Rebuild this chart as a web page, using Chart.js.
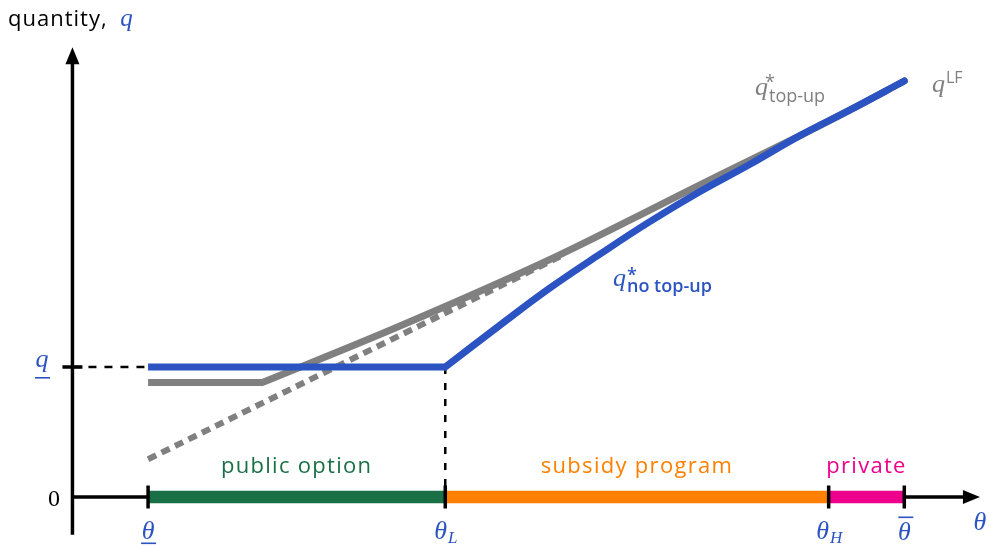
<!DOCTYPE html>
<html><head><meta charset="utf-8">
<script src="https://cdn.jsdelivr.net/npm/chart.js@4/dist/chart.umd.min.js"></script>
<style>html,body{margin:0;padding:0;background:#fff}#wrap{width:989px;height:546px;position:relative}</style>
</head><body><div id="wrap"><canvas id="c"></canvas></div>
<script>
// ---------- data (model units: theta on x, quantity q on y) ----------
const thetaLow = 1.0, thetaL = 4.93, thetaH = 10.0, thetaHigh = 11.0;
const qLow = 1.0;
// q* no top-up: flat at q_ up to theta_L, then concave rise
const noTopUpX = [4.93, 5.65, 6.32, 6.98, 7.64, 8.30, 8.96, 9.62, 10.29, 11.0];
const noTopUpY = [1.0, 1.32, 1.61, 1.87, 2.12, 2.35, 2.56, 2.78, 2.98, 3.2];
// q* top-up: flat part then rise
const topUpFlatX = [1.0, 2.51];
const topUpFlatY = [0.88, 0.88];
const topUpX = [2.51, 4.33, 6.18, 7.51, 8.57, 9.62, 10.29, 11.0];
const topUpY = [0.88, 1.315, 1.79, 2.17, 2.48, 2.78, 2.98, 3.2];
// q LF (dotted)
const lfX = [1.0, 6.45];
const lfY = [0.29, 1.85];
const segNames = ['public option', 'subsidy program', 'private'];
const segStart = [thetaLow, thetaL, thetaH];
const segEnd = [thetaL, thetaH, thetaHigh];
const xAxisEnd = 12.0, yAxisTop = 3.46, yAxisBottom = -0.29;

// ---------- styles ----------
const BLUE = '#2b53c1', GRAY = '#808080';
const SEG_COLORS = ['#1a7046', '#ff8000', '#ec008c'];
const TEXT = '"Open Sans", "DejaVu Sans", sans-serif';
const MATH = '"Liberation Serif", "DejaVu Serif", serif';

const pts = (xs, ys) => xs.map((x, i) => ({x, y: ys[i]}));
const line = (data, color, width, extra) => Object.assign({
  data, borderColor: color, borderWidth: width, showLine: true, pointRadius: 0,
  fill: false, tension: 0, borderCapStyle: 'butt', borderJoinStyle: 'miter'
}, extra || {});

const datasets = [
  line(pts(noTopUpX, noTopUpY), BLUE, 7, {tension: 0.4, borderCapStyle: 'round'}),
  line([{x: thetaLow, y: qLow}, {x: thetaL, y: qLow}], BLUE, 7),
  line(pts(topUpX, topUpY), GRAY, 7, {tension: 0.4, borderCapStyle: 'round'}),
  line(pts(topUpFlatX, topUpFlatY), GRAY, 7),
  line(pts(lfX, lfY), GRAY, 6, {borderDash: [9, 6]}),
];
segNames.forEach((n, i) => datasets.push(line([{x: segStart[i], y: 0}, {x: segEnd[i], y: 0}], SEG_COLORS[i], 12.5)));
datasets.push(line([{x: 0, y: qLow}, {x: thetaLow, y: qLow}], '#000', 2.5, {borderDash: [8, 8]}));
datasets.push(line([{x: thetaL, y: qLow}, {x: thetaL, y: 0}], '#000', 2.5, {borderDash: [7, 9]}));

function put(ctx, s, x, y, font, color, align) {
  ctx.font = font; ctx.fillStyle = color; ctx.textAlign = align || 'left'; ctx.textBaseline = 'alphabetic';
  ctx.fillText(s, x, y);
  return ctx.measureText(s).width;
}

const decor = {
  id: 'decor',
  beforeDatasetsDraw(chart) {
    const {ctx, scales: {x, y}} = chart;
    ctx.save();
    ctx.strokeStyle = '#000'; ctx.lineWidth = 3.5; ctx.lineCap = 'butt';
    ctx.beginPath();
    ctx.moveTo(x.getPixelForValue(0), y.getPixelForValue(yAxisBottom));
    ctx.lineTo(x.getPixelForValue(0), y.getPixelForValue(yAxisTop) + 10);
    ctx.moveTo(x.getPixelForValue(0), y.getPixelForValue(0));
    ctx.lineTo(x.getPixelForValue(xAxisEnd) - 10, y.getPixelForValue(0));
    ctx.stroke();
    ctx.restore();
  },
  afterDatasetsDraw(chart) {
    const {ctx, scales: {x, y}} = chart;
    const x0 = x.getPixelForValue(0), y0 = y.getPixelForValue(0);
    ctx.save();
    // arrowheads
    ctx.fillStyle = '#000';
    const yt = y.getPixelForValue(yAxisTop);
    ctx.beginPath(); ctx.moveTo(x0, yt); ctx.lineTo(x0 - 7, yt + 17); ctx.lineTo(x0 + 7, yt + 17); ctx.closePath(); ctx.fill();
    const xe = x.getPixelForValue(xAxisEnd);
    ctx.beginPath(); ctx.moveTo(xe, y0); ctx.lineTo(xe - 17, y0 - 7); ctx.lineTo(xe - 17, y0 + 7); ctx.closePath(); ctx.fill();
    // ticks
    ctx.strokeStyle = '#000'; ctx.lineWidth = 3.5;
    ctx.beginPath();
    [thetaLow, thetaL, thetaH, thetaHigh].forEach(t => {
      const px = x.getPixelForValue(t); ctx.moveTo(px, y0 - 11.5); ctx.lineTo(px, y0 + 11.5);
    });
    const yq = y.getPixelForValue(qLow);
    ctx.moveTo(x0 - 10, yq); ctx.lineTo(x0 + 10, yq);
    ctx.stroke();

    // y axis title
    ctx.letterSpacing = '1px';
    let w = put(ctx, 'quantity, ', 8, 26, '22px ' + TEXT, '#000');
    ctx.letterSpacing = '0px';
    put(ctx, 'q', 8 + w + 6, 26, 'italic 25px ' + MATH, BLUE);
    // q underline label
    put(ctx, 'q', 42, 367, 'italic 26px ' + MATH, BLUE, 'center');
    ctx.fillStyle = BLUE; ctx.fillRect(35, 377, 15, 1.6);
    // zero
    put(ctx, '0', 54, 506, '24px ' + MATH, '#000', 'center');

    // theta labels
    const tf = 'italic 26px ' + MATH, sf = 'italic 17px ' + MATH;
    let px = x.getPixelForValue(thetaLow);
    put(ctx, 'θ', px, 539, tf, BLUE, 'center');
    ctx.fillStyle = BLUE; ctx.fillRect(px - 7, 542.5, 15, 1.6);
    ctx.font = tf; const tw = ctx.measureText('θ').width;
    ctx.font = sf;
    px = x.getPixelForValue(thetaL);
    let lw = ctx.measureText('L').width;
    put(ctx, 'θ', px - (tw + lw) / 2, 539, tf, BLUE);
    put(ctx, 'L', px - (tw + lw) / 2 + tw + 1, 543, sf, BLUE);
    px = x.getPixelForValue(thetaH);
    ctx.font = sf; lw = ctx.measureText('H').width;
    put(ctx, 'θ', px - (tw + lw) / 2, 539, tf, BLUE);
    put(ctx, 'H', px - (tw + lw) / 2 + tw + 1, 543, sf, BLUE);
    px = x.getPixelForValue(thetaHigh);
    put(ctx, 'θ', px, 540, tf, BLUE, 'center');
    ctx.fillStyle = BLUE; ctx.fillRect(px - 6, 516.5, 15, 1.6);
    put(ctx, 'θ', 980, 530, tf, BLUE, 'center');

    // segment labels
    ctx.letterSpacing = '1.3px';
    segNames.forEach((n, i) => {
      const cx = (x.getPixelForValue(segStart[i]) + x.getPixelForValue(segEnd[i])) / 2;
      put(ctx, n, cx, 473, '22px ' + TEXT, SEG_COLORS[i], 'center');
    });
    ctx.letterSpacing = '0px';

    // curve labels
    put(ctx, 'q', 755, 95, 'italic 26px ' + MATH, GRAY);
    put(ctx, '*', 765, 88, '18px ' + TEXT, GRAY);
    put(ctx, 'top-up', 769, 102, '18px ' + TEXT, GRAY);
    put(ctx, 'q', 932, 92, 'italic 26px ' + MATH, GRAY);
    put(ctx, 'LF', 946, 83, '16px ' + TEXT, GRAY);
    put(ctx, 'q', 613, 286, 'italic 26px ' + MATH, BLUE);
    put(ctx, '*', 627, 281, '600 18px ' + TEXT, BLUE);
    put(ctx, 'no top-up', 627, 292, '600 18px ' + TEXT, BLUE);
    ctx.restore();
  }
};

new Chart(document.getElementById('c'), {
  type: 'scatter',
  data: {datasets},
  options: {
    responsive: true, maintainAspectRatio: false, animation: false,
    layout: {padding: 0},
    plugins: {legend: {display: false}, tooltip: {enabled: false}},
    scales: {
      x: {type: 'linear', min: -0.958, max: 12.12, display: false},
      y: {type: 'linear', min: -0.377, max: 3.823, display: false}
    }
  },
  plugins: [decor]
});
</script></body></html>
